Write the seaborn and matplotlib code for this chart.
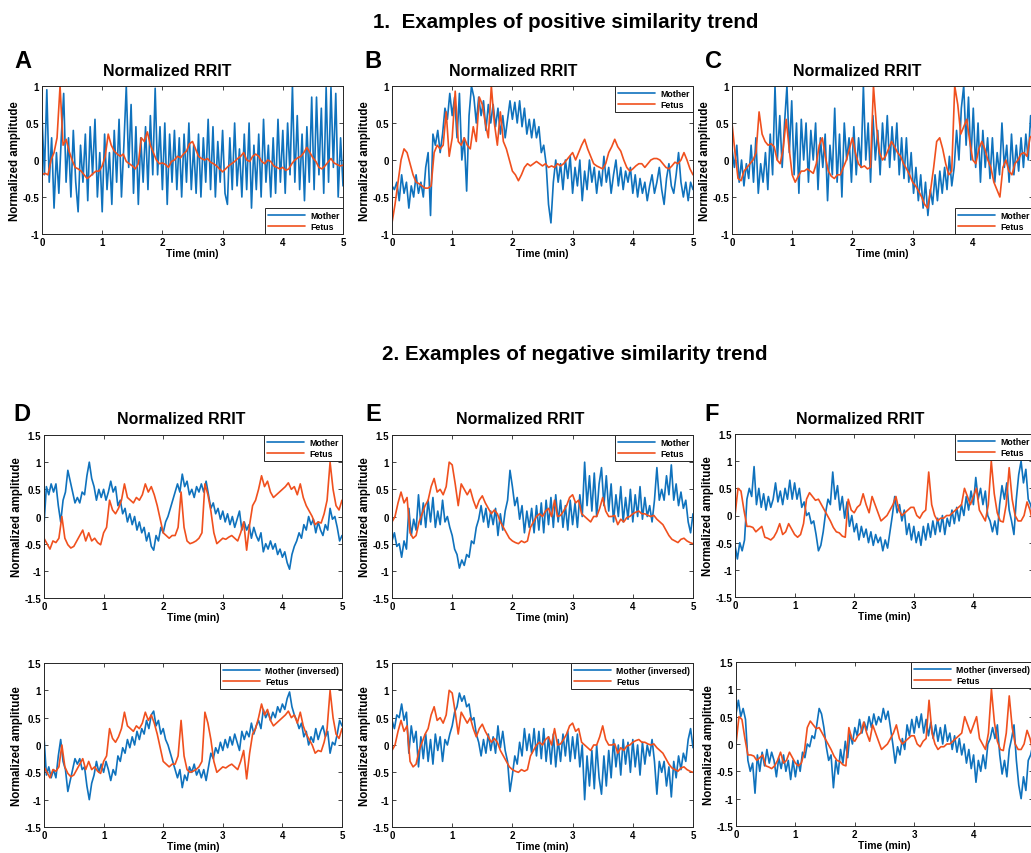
import numpy as np
import pandas as pd
import matplotlib
matplotlib.use('Agg')
import matplotlib.pyplot as plt
import seaborn as sns

# ---- datos (tiempo uniforme 0-5 min) ----
# madre: paso 0.04 min, feto: paso 0.05 min

mother_A = [0.6, -0.2, 0.95, -0.3, 0.3, -0.65, 0.1, -0.45, 0.3, 0.9, -0.3, 0.3, -0.5, 0.4, -0.3, -0.7,
            0.2, -0.3, 0.35, -0.55, 0.45, -0.2, 0.55, -0.5, 0.1, -0.7, 0.35, -0.4, 0.1, -0.6, 0.4, -0.3,
            0.55, -0.5, 0.2, 1.0, -0.1, 0.75, -0.45, 0.45, -0.6, 0.3, -0.3, 0.45, -0.4, 0.6, -0.2, 0.97,
            -0.2, 0.45, -0.4, 0.5, -0.6, 0.35, -0.3, 0.4, -0.4, 0.3, -0.5, 0.35, -0.3, 0.5, -0.4, 0.2,
            -0.45, 0.35, -0.5, 0.3, -0.3, 0.55, -0.4, 0.45, -0.5, 0.25, -0.3, 0.4, -0.45, -0.6, 0.3, -0.4,
            0.5, -0.35, 0.15, -0.5, 0.35, -0.4, 0.5, -0.65, 0.2, -0.4, 0.35, -0.5, 0.55, -0.3, 0.2, -0.5,
            0.3, -0.45, 0.55, -0.3, 0.4, -0.45, 0.5, -0.2, 1.0, -0.3, 0.6, -0.4, 0.35, -0.55, 0.45, -0.3,
            0.85, -0.4, 0.85, -0.2, 0.7, -0.45, 0.98, -0.3, 0.98, -0.1, 0.9, -0.5, 0.3, -0.35]
fetus_A = [-0.2, -0.18, -0.2, 0.0, 0.1, 0.3, 1.0, 0.2, 0.28, 0.12, 0.0, -0.1, -0.12, -0.15, -0.2, -0.25,
           -0.22, -0.18, -0.15, -0.15, -0.08, 0.05, 0.35, 0.2, 0.12, 0.08, 0.05, 0.08, -0.02, -0.05, -0.08,
           -0.12, -0.05, 0.3, 0.25, 0.38, 0.2, 0.1, 0.0, -0.05, -0.04, -0.06, -0.1, -0.02, 0.0, 0.05, 0.03,
           0.08, 0.12, 0.22, 0.25, 0.15, 0.05, 0.02, 0.0, 0.02, -0.03, -0.05, -0.08, -0.12, -0.16, -0.12,
           -0.08, -0.05, -0.02, 0.02, 0.05, 0.1, 0.0, -0.02, 0.05, 0.08, 0.05, -0.02, -0.05, 0.0, -0.02,
           -0.08, -0.1, -0.12, -0.1, -0.14, -0.12, -0.05, 0.0, 0.03, 0.05, 0.1, 0.17, 0.1, 0.03, -0.02,
           -0.1, -0.12, -0.08, -0.03, 0.02, -0.04, -0.06, -0.08, -0.07]

mother_B = [-0.35, -0.4, -0.3, -0.55, -0.2, -0.45, -0.3, -0.65, -0.35, -0.5, -0.2, -0.45, -0.3, -0.5,
            -0.1, 0.1, -0.75, 0.35, 0.2, 0.4, 0.1, 0.35, 0.7, 0.55, 0.9, 0.6, 0.85, 0.3, 0.9, 0.0, 0.3,
            -0.42, 0.6, 1.0, 0.85, 0.5, 0.85, 0.6, 0.8, 0.4, 0.75, 0.5, 0.75, 0.45, 0.7, 0.35, 0.6, 0.3,
            0.55, 0.8, 0.55, 0.78, 0.5, 0.8, 0.45, 0.7, 0.35, 0.55, 0.3, 0.55, 0.3, 0.45, 0.1, 0.2, -0.05,
            -0.6, -0.85, -0.3, 0.0, -0.3, -0.05, -0.4, 0.0, -0.25, 0.05, -0.45, -0.1, -0.35, 0.0, -0.55,
            -0.15, -0.4, 0.0, -0.3, -0.1, -0.45, -0.15, -0.35, 0.05, -0.3, -0.1, -0.45, -0.2, 0.0, -0.35,
            -0.1, -0.4, -0.15, -0.3, -0.1, -0.45, -0.2, -0.5, -0.25, -0.45, -0.3, -0.55, -0.35, -0.2,
            -0.45, -0.3, -0.1, -0.4, -0.6, -0.25, -0.05, -0.35, -0.45, -0.2, 0.1, -0.3, -0.5, -0.3,
            -0.55, -0.3, -0.4]
fetus_B = [-0.85, -0.6, -0.3, 0.0, 0.15, 0.1, -0.05, -0.2, -0.3, -0.32, -0.35, -0.38, -0.38, -0.35,
           0.1, 0.2, 0.15, 0.2, 0.65, 0.05, 0.3, 0.93, 0.25, 0.2, 0.3, 0.2, 0.15, 0.45, 0.25, 0.85, 0.75,
           0.5, 0.3, 1.0, 0.5, 0.2, 0.65, 0.25, 0.15, 0.0, -0.15, -0.2, -0.28, -0.2, -0.1, -0.05, -0.08,
           -0.05, -0.02, -0.05, -0.08, -0.05, -0.1, -0.08, -0.1, -0.05, -0.08, -0.05, 0.0, 0.05, 0.1, 0.0,
           0.1, 0.2, 0.28, 0.15, 0.05, -0.05, -0.08, -0.1, -0.12, -0.05, 0.1, 0.18, 0.28, 0.18, 0.12, 0.0,
           -0.1, -0.15, -0.12, -0.08, -0.05, -0.05, -0.1, -0.05, 0.0, 0.02, 0.02, 0.0, -0.05, -0.1, -0.12,
           -0.08, -0.03, -0.05, 0.0, 0.1, 0.0, -0.12, -0.2]

mother_C = [0.15, -0.1, 0.2, -0.3, 0.0, -0.35, -0.05, -0.25, 0.2, -0.3, 0.3, -0.45, -0.05, -0.3, 0.1,
            -0.4, 0.35, -0.2, 1.0, 0.0, 0.6, -0.1, 0.5, 1.0, 0.1, 0.8, -0.2, 0.5, -0.45, 0.55, 0.0, 0.5,
            -0.3, 0.4, 0.0, 0.5, -0.4, 0.3, -0.1, 0.35, -0.55, 0.2, -0.2, 0.7, -0.3, 0.35, -0.5, 0.5, 0.0,
            0.3, -0.3, 0.45, -0.2, 0.3, -0.1, 1.0, 0.0, 0.5, -0.3, 0.6, 0.0, 0.4, -0.2, 0.5, 0.0, 0.6, -0.1,
            0.45, 0.0, 0.5, -0.2, 0.3, -0.25, 0.3, -0.3, 0.1, -0.45, -0.1, -0.55, -0.2, -0.65, -0.3, -0.75,
            -0.4, -0.6, -0.2, -0.55, -0.15, -0.45, -0.1, -0.4, 0.05, -0.35, -0.1, 0.4, 0.0, 0.7, 1.0, 0.2,
            0.85, 0.0, 0.7, -0.1, 0.5, -0.3, 0.4, -0.1, 0.3, -0.25, 0.3, -0.3, 0.1, -0.2, 0.5, -0.1, 0.2,
            -0.3, 0.35, -0.2, 0.2, -0.15, 0.3, -0.1, 0.35, 0.0, 0.6, 0.25]
fetus_C = [0.5, 0.1, -0.25, -0.28, -0.15, -0.1, -0.05, 0.0, 0.1, 0.65, 0.35, 0.25, 0.2, 0.22, 0.18,
           0.0, -0.05, 0.15, 0.55, 0.15, -0.2, -0.3, -0.22, -0.15, -0.15, -0.12, -0.15, -0.18, -0.05, 0.2,
           0.3, 0.05, -0.15, -0.22, -0.25, -0.2, -0.2, -0.1, 0.0, 0.15, 0.3, 0.1, -0.05, -0.1, -0.08,
           -0.12, -0.1, 1.0, 0.45, 0.1, 0.0, 0.05, 0.15, 0.25, 0.18, 0.1, 0.05, -0.05, -0.12, -0.2, -0.3,
           -0.35, -0.42, -0.5, -0.6, -0.65, -0.4, -0.1, 0.25, 0.3, 0.15, -0.05, -0.2, -0.15, 1.0, 0.75,
           0.35, 0.45, 0.55, 0.25, 0.0, -0.05, 0.15, 0.25, 0.15, 0.0, -0.1, -0.3, -0.4, -0.5, -0.1, 0.0,
           -0.15, -0.2, -0.05, 0.0, 0.08, 0.1, 0.05, 0.3, 0.35]

mother_D = [-0.15, 0.55, 0.4, 0.6, 0.45, 0.6, 0.2, -0.1, 0.3, 0.45, 0.85, 0.65, 0.45, 0.25, 0.35, 0.25,
            0.45, 0.4, 0.75, 1.0, 0.7, 0.55, 0.3, 0.5, 0.35, 0.5, 0.3, 0.45, 0.65, 0.45, 0.55, 0.2, 0.3,
            0.05, 0.15, -0.1, 0.05, -0.15, 0.0, -0.25, -0.1, -0.3, -0.2, -0.45, -0.3, -0.55, -0.62, -0.35,
            -0.45, -0.2, -0.3, -0.1, 0.0, 0.15, 0.3, 0.45, 0.6, 0.45, 0.78, 0.55, 0.65, 0.4, 0.5, 0.35,
            0.55, 0.45, 0.6, 0.45, 0.65, 0.4, 0.15, 0.25, 0.05, 0.15, -0.05, 0.1, -0.1, 0.05, -0.15, 0.0,
            -0.2, -0.05, 0.1, -0.25, -0.1, -0.25, -0.15, -0.4, -0.2, -0.35, -0.45, -0.3, -0.65, -0.5,
            -0.6, -0.45, -0.6, -0.5, -0.7, -0.6, -0.75, -0.65, -0.85, -0.97, -0.7, -0.55, -0.45, -0.3,
            -0.4, -0.15, -0.25, 0.0, -0.15, -0.05, -0.3, -0.1, -0.25, -0.35, -0.15, -0.25, 0.15, -0.05,
            0.0, -0.2, -0.45, -0.35]
fetus_D = [-0.4, -0.5, -0.6, -0.45, -0.48, -0.4, 0.0, -0.4, -0.52, -0.58, -0.55, -0.45, -0.35, -0.25,
           -0.45, -0.3, -0.45, -0.4, -0.48, -0.52, -0.3, -0.2, 0.3, 0.12, 0.05, 0.15, 0.3, 0.6, 0.35, 0.3,
           0.25, 0.35, 0.3, 0.4, 0.6, 0.45, 0.55, 0.4, 0.2, -0.05, -0.3, -0.35, -0.4, -0.35, -0.35, -0.2,
           0.45, -0.2, -0.45, -0.5, -0.48, -0.45, -0.4, -0.3, 0.6, 0.4, 0.1, -0.3, -0.5, -0.45, -0.4,
           -0.42, -0.38, -0.35, -0.4, -0.45, -0.3, -0.1, -0.62, -0.15, 0.2, 0.3, 0.5, 0.75, 0.55, 0.65,
           0.45, 0.35, 0.4, 0.45, 0.5, 0.55, 0.62, 0.5, 0.55, 0.4, 0.6, 0.35, 0.2, 0.1, 0.0, -0.15, -0.1,
           -0.12, 0.05, 0.3, 1.0, 0.5, 0.2, 0.12, 0.3]

mother_E = [-0.45, -0.3, -0.55, -0.5, -0.75, -0.45, -0.6, 0.15, -0.35, -0.05, -0.25, 0.4, -0.15, 0.25,
            -0.2, 0.3, -0.1, 0.35, -0.2, 0.1, -0.15, 0.3, -0.1, 0.0, -0.2, -0.35, -0.6, -0.7, -0.95, -0.8,
            -0.9, -0.7, -0.75, -0.45, -0.5, -0.2, -0.05, 0.2, -0.1, 0.15, -0.2, 0.1, -0.15, 0.15, -0.35,
            0.05, -0.25, 0.1, 0.3, 0.85, 0.55, 0.2, 0.35, -0.05, 0.2, -0.3, 0.1, -0.2, 0.15, -0.3, 0.2,
            -0.25, 0.25, -0.3, 0.3, -0.15, 0.35, -0.2, 0.4, -0.1, 0.3, -0.2, 0.2, -0.25, 0.3, -0.15, 0.25,
            -0.2, 0.4, 0.0, 1.0, 0.2, 0.75, 0.1, 0.8, 0.0, 0.6, 0.9, 0.2, 0.75, 0.1, 0.6, -0.1, 0.4, 0.0,
            0.55, -0.1, 0.35, -0.05, 0.5, -0.1, 0.4, 0.0, 0.55, -0.05, 0.35, 0.0, 0.2, -0.1, 0.3, 0.9, 0.3,
            0.5, 0.3, 0.75, 0.4, 0.95, 0.3, 0.6, 0.2, 0.45, 0.15, 0.3, -0.1, -0.3, 0.05]
fetus_E = [-0.1, 0.0, 0.25, 0.45, 0.25, 0.35, -0.3, -0.4, -0.35, -0.1, 0.05, 0.2, 0.3, 0.55, 0.7, 0.45,
           0.5, 0.4, 0.55, 1.0, 0.95, 0.6, 0.2, 0.6, 0.5, 0.4, 0.5, 0.3, 0.15, 0.3, 0.38, 0.25, 0.15, 0.05,
           0.12, 0.05, -0.1, -0.2, -0.3, -0.4, -0.45, -0.48, -0.5, -0.45, -0.48, -0.45, -0.2, -0.1, 0.0,
           0.05, 0.0, 0.1, 0.15, 0.0, 0.3, 0.0, 0.02, 0.1, 0.2, 0.35, 0.4, 0.25, 0.3, 0.05, 0.0, -0.05,
           -0.1, 0.0, 0.0, 0.15, 0.35, 0.1, 0.0, 0.0, 0.02, -0.15, -0.05, -0.1, -0.02, 0.0, 0.05, 0.08,
           0.1, 0.05, 0.05, 0.02, 0.0, 0.02, -0.05, -0.1, -0.15, -0.25, -0.35, -0.42, -0.45, -0.48, -0.42,
           -0.4, -0.45, -0.48, -0.5]

mother_F = [-0.55, -0.8, -0.5, -0.65, -0.45, 0.3, 0.5, 0.35, 0.9, 0.2, 0.5, 0.15, 0.4, 0.1, 0.35, 0.15,
            0.3, 0.6, 0.25, 0.45, 0.2, 0.5, 0.3, 0.65, 0.3, 0.6, 0.3, 0.5, 0.15, 0.25, 0.0, 0.05, -0.15,
            -0.1, -0.35, -0.65, -0.55, -0.3, 0.05, 0.3, 0.2, 0.8, 0.3, 0.55, 0.1, 0.35, -0.05, 0.25, -0.2,
            0.0, -0.3, -0.15, -0.45, -0.2, -0.4, -0.25, -0.5, -0.3, -0.55, -0.35, -0.5, -0.4, -0.65, -0.45,
            -0.6, -0.3, 0.0, 0.35, 0.05, 0.2, -0.1, 0.1, -0.35, -0.15, -0.45, -0.2, -0.5, -0.3, -0.55,
            -0.2, -0.45, -0.15, -0.4, -0.1, -0.35, -0.05, -0.3, 0.0, -0.35, -0.05, -0.2, 0.1, -0.15, 0.15,
            -0.1, 0.2, 0.0, 0.35, 0.1, 0.45, 0.2, 0.7, 0.3, 0.5, 0.2, 0.45, 0.0, -0.1, -0.3, -0.1, -0.35,
            0.2, 0.55, 0.3, 0.6, 0.1, -0.1, -0.35, 0.3, 0.75, 1.0, 0.6, 0.85, 0.3, 0.2, 0.0]
fetus_F = [0.0, 0.5, 0.45, 0.1, -0.2, -0.2, -0.22, -0.3, -0.25, -0.2, -0.4, -0.42, -0.45, -0.4, -0.3,
           -0.15, -0.35, -0.3, -0.15, -0.25, -0.35, -0.4, -0.35, -0.15, 0.3, 0.42, 0.35, 0.28, 0.3, 0.2,
           0.1, 0.0, -0.1, -0.22, -0.3, -0.32, -0.38, -0.4, 0.3, 0.1, 0.05, 0.15, 0.2, 0.4, 0.2, 0.05,
           0.35, 0.2, 0.05, -0.1, -0.05, 0.0, 0.1, 0.2, 0.35, 0.1, 0.0, 0.05, 0.1, 0.15, 0.15, 0.0, -0.05,
           0.05, 0.1, 0.8, 0.2, 0.0, -0.1, -0.05, -0.05, 0.0, 0.0, 0.05, 0.1, 0.15, 0.2, 0.5, 0.35, 0.2,
           0.35, 0.5, 0.1, 0.0, -0.1, 0.2, 1.0, 0.4, 0.05, -0.1, -0.12, 0.2, 0.88, 0.3, 0.0, -0.1, -0.1,
           0.0, 0.25, 0.1, -0.15]

sns.set_style('ticks')
plt.rcParams['font.family'] = ['Liberation Sans', 'DejaVu Sans']
plt.rcParams['font.weight'] = 'bold'
plt.rcParams['axes.labelweight'] = 'bold'
plt.rcParams['text.color'] = 'black'
plt.rcParams['axes.labelcolor'] = 'black'
plt.rcParams['xtick.color'] = 'black'
plt.rcParams['ytick.color'] = 'black'

AZUL = '#0F72BD'
NARANJA = '#F0501E'
GRIS = '#262626'
W, H = 1031, 854

fig = plt.figure(figsize=(W / 100, H / 100), dpi=100)


def caja(x0, y0, x1, y1):
    # rectangulo en pixeles -> coordenadas de figura
    return [x0 / W, 1 - y1 / H, (x1 - x0) / W, (y1 - y0) / H]


def panel(rect, madre, feto, lim, ticks, loc, etiqueta='Mother'):
    ax = fig.add_axes(rect)
    df_m = pd.DataFrame({'t': np.linspace(0, 5, len(madre)), 'y': madre})
    df_f = pd.DataFrame({'t': np.linspace(0, 5, len(feto)), 'y': feto})
    sns.lineplot(data=df_m, x='t', y='y', color=AZUL, linewidth=1.2, label=etiqueta, ax=ax)
    sns.lineplot(data=df_f, x='t', y='y', color=NARANJA, linewidth=1.2, label='Fetus', ax=ax)
    ax.set_xlim(0, 5)
    ax.set_ylim(-lim, lim)
    ax.set_xticks([0, 1, 2, 3, 4, 5])
    ax.set_yticks(ticks)
    ax.set_yticklabels([('%g' % v) for v in ticks])
    ax.tick_params(direction='in', length=3, width=0.6, top=True, right=True,
                   labelsize=7, pad=2, color=GRIS)
    for s in ax.spines.values():
        s.set_color(GRIS)
        s.set_linewidth(0.7)
    ax.set_xlabel('Time (min)', fontsize=7.5, labelpad=1)
    ax.set_ylabel('Normalized amplitude', fontsize=8.3, labelpad=1)
    leg = ax.legend(loc=loc, fontsize=6.3, handlelength=4.2, borderaxespad=0, fancybox=False,
                    edgecolor=GRIS, framealpha=1, borderpad=0.35, labelspacing=0.25,
                    handletextpad=0.6)
    leg.get_frame().set_linewidth(0.7)
    return ax


t1 = [-1, -0.5, 0, 0.5, 1]
t2 = [-1.5, -1, -0.5, 0, 0.5, 1, 1.5]

# fila 1
panel(caja(42, 87, 343, 235), mother_A, fetus_A, 1, t1, 'lower right')
panel(caja(392, 87, 693, 235), mother_B, fetus_B, 1, t1, 'upper right')
panel(caja(732, 87, 1033, 235), mother_C, fetus_C, 1, t1, 'lower right')

# fila 2
panel(caja(44, 436, 342, 599), mother_D, fetus_D, 1.5, t2, 'upper right')
panel(caja(392, 436, 693, 599), mother_E, fetus_E, 1.5, t2, 'upper right')
panel(caja(735, 435, 1033, 598), mother_F, fetus_F, 1.5, t2, 'upper right')

# fila 3: madre invertida
panel(caja(44, 664, 342, 828), [-v for v in mother_D], fetus_D, 1.5, t2, 'upper right', 'Mother (inversed)')
panel(caja(392, 664, 693, 828), [-v for v in mother_E], fetus_E, 1.5, t2, 'upper right', 'Mother (inversed)')
panel(caja(736, 663, 1033, 827), [-v for v in mother_F], fetus_F, 1.5, t2, 'upper right', 'Mother (inversed)')

# titulos de cada panel
for x, y in [(167, 72), (513, 72), (857, 72), (181, 420), (520, 420), (860, 420)]:
    fig.text(x / W, 1 - y / H, 'Normalized RRIT', ha='center', va='center', fontsize=11.5,
             fontweight='bold')

# letras
for letra, x, y in [('A', 23, 62), ('B', 373, 62), ('C', 714, 62),
                    ('D', 22, 415), ('E', 373, 415), ('F', 712, 415)]:
    fig.text(x / W, 1 - y / H, letra, ha='center', va='center', fontsize=17, fontweight='bold')

fig.text(566 / W, 1 - 22 / H, '1.  Examples of positive similarity trend', ha='center', va='center',
         fontsize=14.8, fontweight='bold')
fig.text(575 / W, 1 - 355 / H, '2. Examples of negative similarity trend', ha='center', va='center',
         fontsize=14.8, fontweight='bold')

fig.savefig('out.png', dpi=100, facecolor='white')
